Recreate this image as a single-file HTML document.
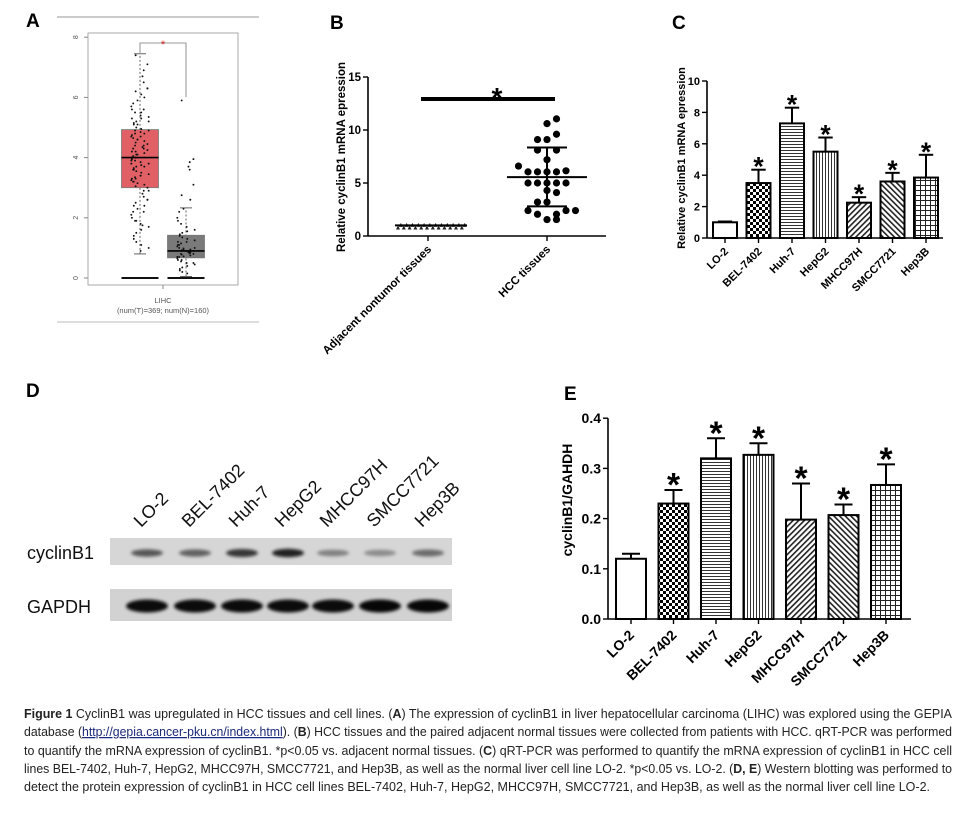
<!DOCTYPE html>
<html><head><meta charset="utf-8"><style>
html,body{margin:0;padding:0;background:#fff;}
svg{display:block;font-family:"Liberation Sans",Arial,sans-serif;}
</style></head><body>
<svg id="fig" width="977" height="823" viewBox="0 0 977 823" xmlns="http://www.w3.org/2000/svg">
<defs>
 <pattern id="pChk" width="6" height="6" patternUnits="userSpaceOnUse"><rect width="6" height="6" fill="#fff"/><rect width="3" height="3" fill="#000"/><rect x="3" y="3" width="3" height="3" fill="#000"/></pattern>
 <pattern id="pH" width="4" height="3" patternUnits="userSpaceOnUse"><rect width="4" height="3" fill="#fff"/><rect width="4" height="1" fill="#333"/></pattern>
 <pattern id="pV" width="3" height="4" patternUnits="userSpaceOnUse"><rect width="3" height="4" fill="#fff"/><rect width="1" height="4" fill="#333"/></pattern>
 <pattern id="pD1" width="4" height="4" patternUnits="userSpaceOnUse" patternTransform="rotate(45)"><rect width="4" height="4" fill="#fff"/><rect width="1.6" height="4" fill="#222"/></pattern>
 <pattern id="pD2" width="4" height="4" patternUnits="userSpaceOnUse" patternTransform="rotate(-45)"><rect width="4" height="4" fill="#fff"/><rect width="1.6" height="4" fill="#222"/></pattern>
 <pattern id="pG" width="5" height="5" patternUnits="userSpaceOnUse"><rect width="5" height="5" fill="#fff"/><rect width="5" height="1" fill="#222"/><rect width="1" height="5" fill="#222"/></pattern>
 <filter id="blur" x="-20%" y="-50%" width="140%" height="200%"><feGaussianBlur stdDeviation="1.6"/></filter>
</defs>

<g id="panelA"></g>
<g id="panelB"></g>
<g id="panelC"></g>
<g id="panelD"></g>
<g id="panelE"></g>

<g font-size="12.5" fill="#222">
 <text x="24" y="718" textLength="928" lengthAdjust="spacingAndGlyphs"><tspan font-weight="bold">Figure 1</tspan> CyclinB1 was upregulated in HCC tissues and cell lines. (<tspan font-weight="bold">A</tspan>) The expression of cyclinB1 in liver hepatocellular carcinoma (LIHC) was explored using the GEPIA</text>
 <text x="24" y="736" textLength="928" lengthAdjust="spacingAndGlyphs">database (<tspan fill="#1c2a7a" text-decoration="underline">http://gepia.cancer-pku.cn/index.html</tspan>). (<tspan font-weight="bold">B</tspan>) HCC tissues and the paired adjacent normal tissues were collected from patients with HCC. qRT-PCR was performed</text>
 <text x="24" y="755" textLength="928" lengthAdjust="spacingAndGlyphs">to quantify the mRNA expression of cyclinB1. *p&lt;0.05 vs. adjacent normal tissues. (<tspan font-weight="bold">C</tspan>) qRT-PCR was performed to quantify the mRNA expression of cyclinB1 in HCC cell</text>
 <text x="24" y="773" textLength="928" lengthAdjust="spacingAndGlyphs">lines BEL-7402, Huh-7, HepG2, MHCC97H, SMCC7721, and Hep3B, as well as the normal liver cell line LO-2. *p&lt;0.05 vs. LO-2. (<tspan font-weight="bold">D, E</tspan>) Western blotting was performed to</text>
 <text x="24" y="791" textLength="906" lengthAdjust="spacingAndGlyphs">detect the protein expression of cyclinB1 in HCC cell lines BEL-7402, Huh-7, HepG2, MHCC97H, SMCC7721, and Hep3B, as well as the normal liver cell line LO-2.</text>
</g>
</svg>
<script>
const NS='http://www.w3.org/2000/svg';
function mk(parent,tag,attrs,txt){const e=document.createElementNS(NS,tag);for(const k in attrs)e.setAttribute(k,attrs[k]);if(txt!==undefined)e.textContent=txt;parent.appendChild(e);return e;}

// ---------- Panel A data ----------
const aTicks=[0,2,4,6,8];
const aTumorBox=[0.8,3.0,4.0,4.93,7.45];
const aNormalBox=[0.05,0.67,0.9,1.42,2.33];
const aTumorPts=[7.4,7.1,6.9,6.7,6.5,6.3,6.2,6.0,5.9,5.8,5.7,5.6,5.5,5.4,5.35,5.3,5.2,5.15,5.1,5.0,4.95,4.9,4.85,4.8,4.75,4.7,4.65,4.6,4.55,4.5,4.45,4.4,4.35,4.3,4.25,4.2,4.15,4.1,4.05,4.0,3.95,3.9,3.85,3.8,3.75,3.7,3.65,3.6,3.55,3.5,3.45,3.4,3.35,3.3,3.25,3.2,3.15,3.1,3.05,3.0,2.9,2.8,2.7,2.6,2.5,2.4,2.3,2.2,2.1,2.0,1.9,1.8,1.7,1.6,1.5,1.4,1.3,1.2,1.1,1.0,0.9,4.4,4.2,3.9,3.6,5.1,4.8,3.3,2.6,2.2,1.75,5.6,6.3,4.0,3.7,4.6,4.3,3.8,5.3,4.9,3.4,2.9,5.5,4.1,3.2,2.4,1.9,6.1,5.2,4.7];
const aNormalPts=[5.9,3.95,3.85,3.7,3.6,3.1,2.75,2.6,2.3,2.2,2.0,1.9,1.8,1.7,1.6,1.55,1.5,1.45,1.4,1.35,1.3,1.25,1.2,1.15,1.1,1.05,1.0,0.98,0.95,0.92,0.9,0.88,0.85,0.82,0.8,0.78,0.75,0.72,0.7,0.65,0.6,0.55,0.5,0.45,0.4,0.35,0.3,0.25,0.2,0.15,1.0,0.9,0.8,1.2,0.7,1.1,0.95,0.85,0.6,0.5];
(function(){
 const g=document.getElementById('panelA');
 const y=v=>278-v*30.1;
 mk(g,'text',{x:26,y:27,'font-size':19,'font-weight':'bold',},'A');
 mk(g,'line',{x1:57,y1:17,x2:259,y2:17,stroke:'#999','stroke-width':1});
 mk(g,'line',{x1:57,y1:322,x2:259,y2:322,stroke:'#bbb','stroke-width':1});
 mk(g,'rect',{x:88,y:33,width:150,height:252,fill:'none',stroke:'#aaa','stroke-width':1,});
 aTicks.forEach(t=>{mk(g,'line',{x1:84,y1:y(t),x2:88,y2:y(t),stroke:'#888'});
  const tx=mk(g,'text',{x:78,y:y(t),'font-size':7,fill:'#555','text-anchor':'middle',transform:`rotate(-90 78 ${y(t)})`},String(t));
  });
 function box(cx,b,color,pts,name){
  const gg=mk(g,'g',{});
  
  mk(gg,'line',{x1:cx,y1:y(b[0]),x2:cx,y2:y(b[4]),stroke:'#666','stroke-dasharray':'2,2'});
  mk(gg,'line',{x1:cx-6,y1:y(b[0]),x2:cx+6,y2:y(b[0]),stroke:'#666'});
  mk(gg,'line',{x1:cx-6,y1:y(b[4]),x2:cx+6,y2:y(b[4]),stroke:'#666'});
  mk(gg,'rect',{x:cx-18.5,y:y(b[3]),width:37,height:y(b[1])-y(b[3]),fill:color,stroke:'#777','stroke-width':0.8});
  mk(gg,'line',{x1:cx-18.5,y1:y(0),x2:cx+18.5,y2:y(0),stroke:'#111','stroke-width':2});
  pts.forEach((v,i)=>{const h=(i*i*31+i*17+7)%29;const dx=(h-14)*0.62;
   const c=mk(gg,'circle',{cx:cx+dx,cy:y(v),r:0.95,fill:'#111'});
   });
  mk(gg,'line',{x1:cx-18.5,y1:y(b[2]),x2:cx+18.5,y2:y(b[2]),stroke:'#000','stroke-width':1.6});
 }
 box(140,aTumorBox,'#e06066',aTumorPts,'tumor-box');
 box(186,aNormalBox,'#7a7a7a',aNormalPts,'normal-box');
 mk(g,'polyline',{points:'140,53 140,43 186,43 186,97',fill:'none',stroke:'#777','stroke-width':0.8});
 mk(g,'text',{x:163,y:48,'font-size':11,fill:'#d22','text-anchor':'middle',},'*');
 mk(g,'line',{x1:163,y1:285,x2:163,y2:289,stroke:'#888'});
 mk(g,'text',{x:163,y:303,'font-size':7.5,fill:'#555','text-anchor':'middle',},'LIHC');
 mk(g,'text',{x:163,y:313,'font-size':7.5,fill:'#555','text-anchor':'middle',},'(num(T)=369; num(N)=160)');
})();

// ---------- Panel B data ----------
const bTicks=[0,5,10,15];
const bGroups=['Adjacent nontumor tissues','HCC tissues'];
const bHccVals=[11.05,10.6,9.6,9.1,9.1,8.1,8.1,7.2,6.6,6.05,6.05,6.05,6.05,6.15,5.0,5.0,5.0,5.0,5.0,4.3,4.1,3.2,3.2,2.4,2.4,2.4,2.05,2.05,1.55,1.55];
const bHccCol=[1,0,1,-1,0,-1,1,0,-3,-2,-1,0,1,2,-2,-1,0,1,2,0,1,-1,0,-2,2,3,-1,1,0,1];
const bHccMean=5.55, bHccSdHi=8.35, bHccSdLo=2.8;
const bAdjMean=1.0, bAdjSpread=[0.8,1.05];
(function(){
 const g=document.getElementById('panelB');
 const y=v=>236-v*10.6;
 const xs=[428,547];
 mk(g,'text',{x:330,y:29,'font-size':19,'font-weight':'bold',},'B');
 mk(g,'line',{x1:368,y1:y(15),x2:368,y2:y(0),stroke:'#000','stroke-width':1.6});
 mk(g,'line',{x1:368,y1:y(0),x2:606,y2:y(0),stroke:'#000','stroke-width':1.6});
 bTicks.forEach(t=>{mk(g,'line',{x1:363,y1:y(t),x2:368,y2:y(t),stroke:'#000','stroke-width':1.4});
  const tx=mk(g,'text',{x:361,y:y(t)+4,'font-size':11.5,'font-weight':'bold','text-anchor':'end'},String(t));
  });
 const yt=mk(g,'text',{x:345,y:157,'font-size':11.5,'font-weight':'bold','text-anchor':'middle',transform:'rotate(-90 345 157)'},'Relative cyclinB1 mRNA epression');
 
 bGroups.forEach((n,i)=>{mk(g,'line',{x1:xs[i],y1:y(0),x2:xs[i],y2:y(0)+5,stroke:'#000','stroke-width':1.4});
  const tx=mk(g,'text',{x:xs[i]+4,y:y(0)+14,'font-size':11.5,'font-weight':'bold','text-anchor':'end',transform:`rotate(-45 ${xs[i]+4} ${y(0)+14})`},n);
  });
 for(let i=0;i<24;i++){const v=bAdjSpread[i%2];const cx=398+i*2.9;
  const p=mk(g,'path',{d:`M${cx-2},${y(v)+2} L${cx+2},${y(v)+2} L${cx},${y(v)-2} Z`,fill:'#222'});
  }
 mk(g,'line',{x1:395,y1:y(bAdjMean),x2:467,y2:y(bAdjMean),stroke:'#000','stroke-width':2,});
 bHccVals.forEach((v,i)=>{const c=mk(g,'circle',{cx:xs[1]+bHccCol[i]*9.5,cy:y(v),r:3.6,fill:'#000'});
  });
 mk(g,'line',{x1:xs[1],y1:y(bHccSdHi),x2:xs[1],y2:y(bHccSdLo),stroke:'#000','stroke-width':2});
 mk(g,'line',{x1:xs[1]-20,y1:y(bHccSdHi),x2:xs[1]+20,y2:y(bHccSdHi),stroke:'#000','stroke-width':2});
 mk(g,'line',{x1:xs[1]-20,y1:y(bHccSdLo),x2:xs[1]+20,y2:y(bHccSdLo),stroke:'#000','stroke-width':2});
 mk(g,'line',{x1:xs[1]-40,y1:y(bHccMean),x2:xs[1]+40,y2:y(bHccMean),stroke:'#000','stroke-width':2,});
 mk(g,'line',{x1:421,y1:99,x2:555,y2:99,stroke:'#000','stroke-width':4,});
 mk(g,'text',{x:497,y:107,'font-size':28,'font-weight':'bold','text-anchor':'middle',},'*');
})();

// ---------- Bar chart helper ----------
const barFills=['#fff','url(#pChk)','url(#pH)','url(#pV)','url(#pD1)','url(#pD2)','url(#pG)'];
function barChart(g,o,cats,vals,errs){
 const y=v=>o.y0-v*o.k;
 mk(g,'line',{x1:o.ax,y1:y(o.ticks[o.ticks.length-1]),x2:o.ax,y2:y(0),stroke:'#000','stroke-width':1.6});
 mk(g,'line',{x1:o.ax,y1:y(0),x2:o.axEnd,y2:y(0),stroke:'#000','stroke-width':1.6});
 o.ticks.forEach((t,i)=>{mk(g,'line',{x1:o.ax-5,y1:y(t),x2:o.ax,y2:y(t),stroke:'#000','stroke-width':1.4});
  const tx=mk(g,'text',{x:o.ax-7,y:y(t)+o.fs*0.36,'font-size':o.fs,'font-weight':'bold','text-anchor':'end'},o.tickLabels[i]);
  });
 cats.forEach((c,i)=>{const cx=o.x0+i*o.step;
  const eb=mk(g,'g',{});
  
  mk(eb,'line',{x1:cx,y1:y(vals[i]),x2:cx,y2:y(errs[i]),stroke:'#000','stroke-width':2});
  mk(eb,'line',{x1:cx-o.w*0.3,y1:y(errs[i]),x2:cx+o.w*0.3,y2:y(errs[i]),stroke:'#000','stroke-width':2});
  const r=mk(g,'rect',{x:cx-o.w/2,y:y(vals[i]),width:o.w,height:y(0)-y(vals[i]),fill:barFills[i],stroke:'#000','stroke-width':2});
  
  if(i>0){const s=mk(g,'text',{x:cx,y:y(errs[i])+o.starOff,'font-size':o.fs*2.4,'font-weight':'bold','text-anchor':'middle'},'*');
   }
  mk(g,'line',{x1:cx,y1:y(0),x2:cx,y2:y(0)+5,stroke:'#000','stroke-width':1.4});
  const lx=cx+4,ly=y(0)+o.fs+3;
  const tx=mk(g,'text',{x:lx,y:ly,'font-size':o.fs,'font-weight':'bold','text-anchor':'end',transform:`rotate(-45 ${lx} ${ly})`},c);
  });
 const yt=mk(g,'text',{x:o.tx,y:o.ty,'font-size':o.fs,'font-weight':'bold','text-anchor':'middle',transform:`rotate(-90 ${o.tx} ${o.ty})`},o.title);
 
}

// ---------- Panel C data ----------
const cCats=['LO-2','BEL-7402','Huh-7','HepG2','MHCC97H','SMCC7721','Hep3B'];
const cVals=[1.0,3.5,7.3,5.5,2.25,3.6,3.85];
const cErrTop=[1.05,4.35,8.3,6.4,2.6,4.15,5.3];
const cTicks=[0,2,4,6,8,10];
const cTickLabels=['0','2','4','6','8','10'];
(function(){
 const g=document.getElementById('panelC');
 mk(g,'text',{x:672,y:29,'font-size':19,'font-weight':'bold',},'C');
 barChart(g,{y0:238,k:15.7,ax:707,axEnd:943,x0:725,step:33.5,w:24,fs:11,starOff:6,ticks:cTicks,tickLabels:cTickLabels,title:'Relative cyclinB1 mRNA epression',tx:685,ty:158},cCats,cVals,cErrTop);
})();

// ---------- Panel E data ----------
const eCats=['LO-2','BEL-7402','Huh-7','HepG2','MHCC97H','SMCC7721','Hep3B'];
const eVals=[0.12,0.23,0.32,0.327,0.198,0.207,0.267];
const eErrTop=[0.13,0.257,0.36,0.35,0.27,0.228,0.308];
const eTicks=[0,0.1,0.2,0.3,0.4];
const eTickLabels=['0.0','0.1','0.2','0.3','0.4'];
(function(){
 const g=document.getElementById('panelE');
 mk(g,'text',{x:564,y:400,'font-size':19,'font-weight':'bold',},'E');
 barChart(g,{y0:619,k:502,ax:608,axEnd:911,x0:631,step:42.5,w:30,fs:14,starOff:6,ticks:eTicks,tickLabels:eTickLabels,title:'cyclinB1/GAHDH',tx:572,ty:500},eCats,eVals,eErrTop);
})();

// ---------- Panel D data ----------
const dLanes=['LO-2','BEL-7402','Huh-7','HepG2','MHCC97H','SMCC7721','Hep3B'];
const dCyclinIntensity=[0.6,0.55,0.75,0.85,0.4,0.35,0.5];
const dGapdhIntensity=[0.95,0.95,0.95,0.95,0.95,0.97,0.97];
(function(){
 const g=document.getElementById('panelD');
 const xs=[147,195,242,288,333,380,428];
 mk(g,'text',{x:26,y:397,'font-size':19,'font-weight':'bold',},'D');
 dLanes.forEach((n,i)=>{const lx=xs[i]-6,ly=528;
  const tx=mk(g,'text',{x:lx,y:ly,'font-size':18,fill:'#111',transform:`rotate(-45 ${lx} ${ly})`},n);
  });
 mk(g,'text',{x:27,y:559,'font-size':18,fill:'#111',},'cyclinB1');
 mk(g,'text',{x:27,y:613,'font-size':18,fill:'#111',},'GAPDH');
 mk(g,'rect',{x:110,y:538,width:342,height:27,fill:'#d6d6d6',});
 mk(g,'rect',{x:110,y:589,width:342,height:32,fill:'#d2d2d2',});
 dCyclinIntensity.forEach((v,i)=>{const e=mk(g,'ellipse',{cx:xs[i],cy:553,rx:16,ry:2.5+v*2,fill:'#000','fill-opacity':v,filter:'url(#blur)'});
  });
 dGapdhIntensity.forEach((v,i)=>{const e=mk(g,'ellipse',{cx:xs[i],cy:606,rx:21,ry:6.5,fill:'#000','fill-opacity':v,filter:'url(#blur)'});
  });
})();
</script>
</body></html>
